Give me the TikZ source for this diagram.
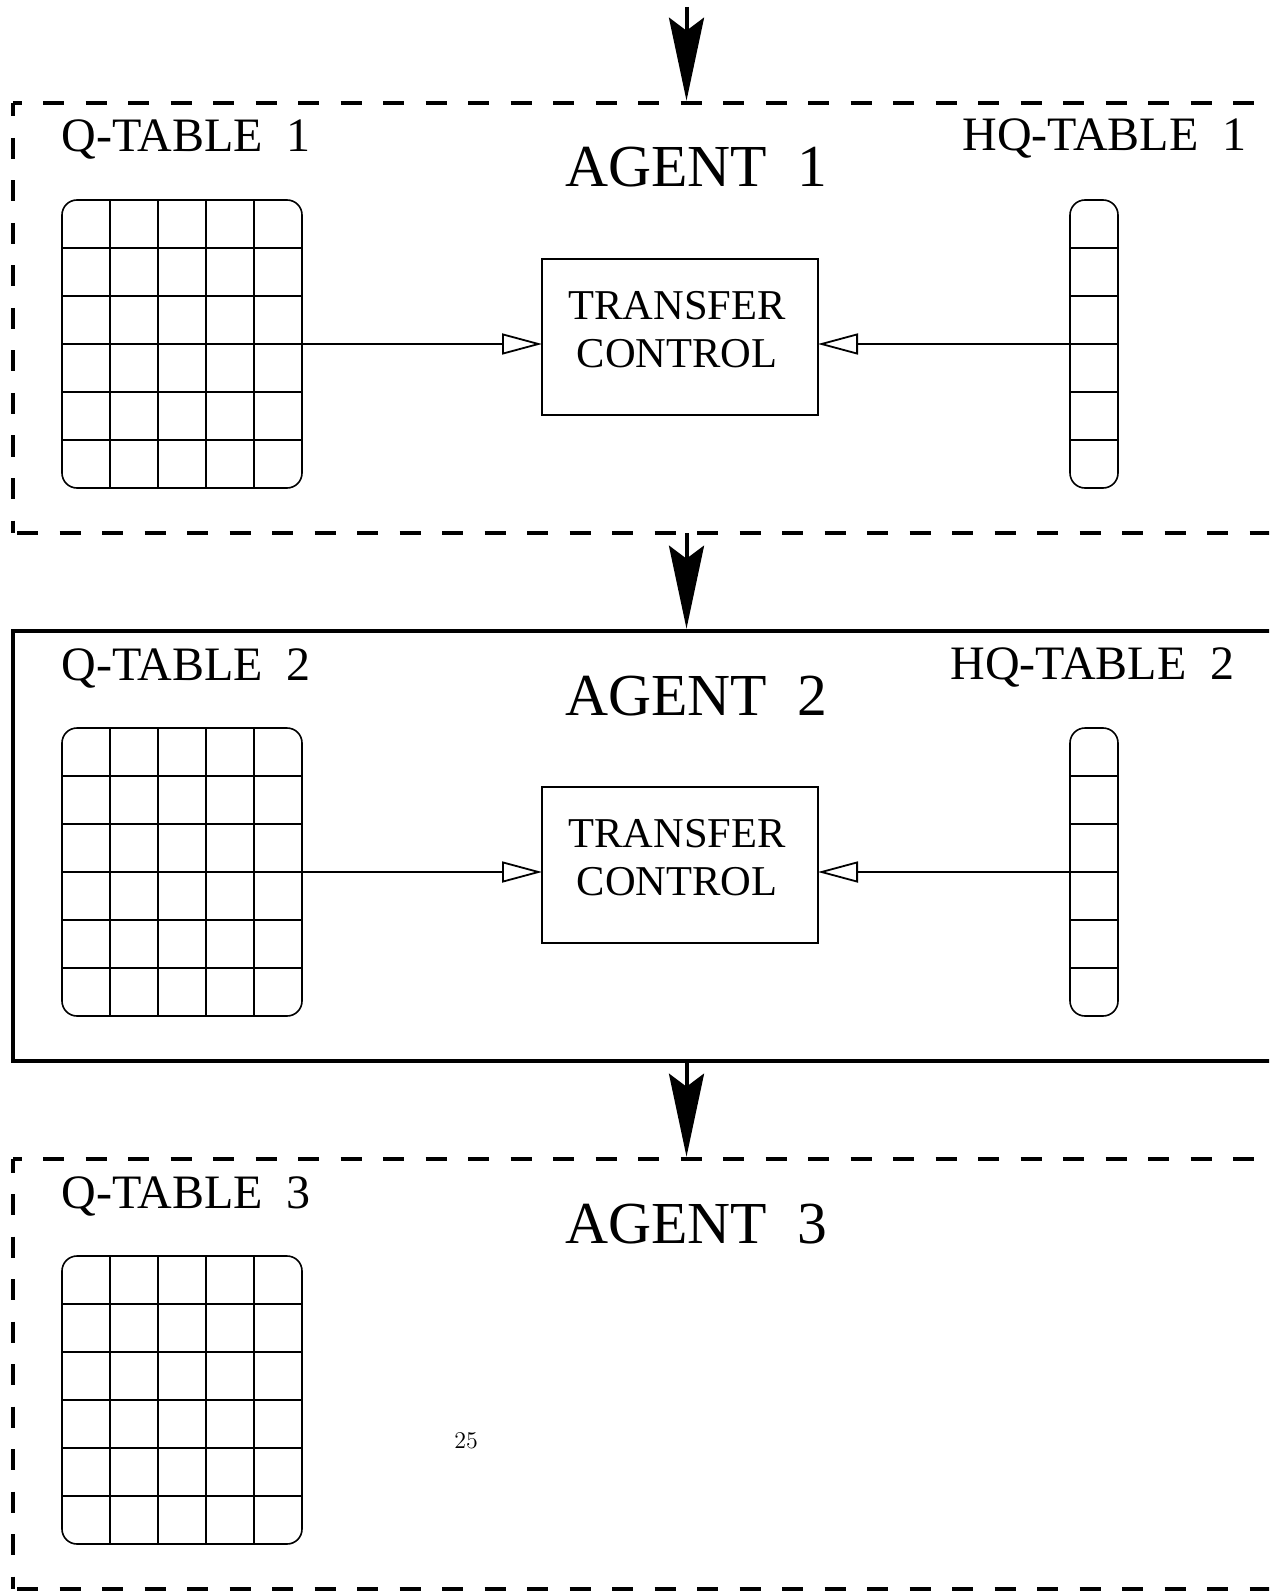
\documentclass[tikz,border=0pt]{standalone}
\usepackage{fontspec}
\setmainfont{Liberation Serif}
\usetikzlibrary{arrows.meta}

\begin{document}
\begin{tikzpicture}[x=0.5pt,y=-0.5pt,
  agentframe/.style={line width=2.3pt},
  dashedframe/.style={agentframe, dash pattern=on 10.5pt off 10.75pt},
  framebox/.style={inner sep=0pt, outer sep=0pt, minimum width=673.5pt, minimum height=215pt},
  flowarrow/.style={line width=2pt, shorten >=1.15pt,
    -{Stealth[length=41.5pt,width=17.5pt,inset=6.5pt]}},
  gridline/.style={line width=0.8pt},
  tablebox/.style={draw, line width=0.8pt, rounded corners=7.5pt, inner sep=0pt, outer sep=0pt,
    minimum height=144pt},
  ctrlbox/.style={draw, line width=0.8pt, inner sep=0pt, outer sep=0pt,
    minimum width=138pt, minimum height=78pt},
  feedarrow/.style={line width=0.9pt, -{Triangle[open,length=20pt,width=10.5pt]}},
  tablelabel/.style={font=\fontsize{24}{28}\selectfont, anchor=base west, inner sep=0pt},
  agentlabel/.style={font=\fontsize{29.8}{35}\selectfont, anchor=base west, inner sep=0pt},
  ctrltext/.style={font=\fontsize{21.25}{24}\selectfont, align=center, inner sep=0pt},
]
\useasboundingbox (0,0) rectangle (1269,1593);
\clip (0,0) rectangle (1269,1593);

% agent frames (they run on past the right-hand edge)
\node[framebox] (a1) at (686.5,318) {};
\node[framebox] (a2) at (686.5,846) {};
\node[framebox] (a3) at (686.5,1374) {};

\draw[dashedframe, dash phase=6.25pt] (a1.north west) -- (a1.north east);
\draw[dashedframe, dash phase=3.75pt] (a1.north west) -- (a1.south west);
\draw[dashedframe, dash phase=19.25pt] (a1.south west) -- (a1.south east);

\draw[agentframe] (a2.north east) -- (a2.north west) -- (a2.south west) -- (a2.south east);

\draw[dashedframe, dash phase=6.25pt] (a3.north west) -- (a3.north east);
\draw[dashedframe, dash phase=3.75pt] (a3.north west) -- (a3.south west);
\draw[dashedframe, dash phase=19.25pt] (a3.south west) -- (a3.south east);

% flow between agents
\coordinate (entry) at (686.5,7);
\draw[flowarrow] (entry) -- (a1.north);
\draw[flowarrow] (a1.south) -- (a2.north);
\draw[flowarrow] (a2.south) -- (a3.north);

% Q-tables of all three agents
\foreach \k/\dy in {1/0,2/528,3/1056}{
  \begin{scope}[shift={(0,\dy)}]
    \foreach \i in {1,...,4}
      \draw[gridline] (62+48*\i,200) -- (62+48*\i,488);
    \foreach \j in {1,...,5}
      \draw[gridline] (62,200+48*\j) -- (302,200+48*\j);
    \node[tablebox, minimum width=120pt] (q\k) at (182,344) {};
    \node[tablelabel] (ql\k) at (61,152) {Q-TABLE\ \ \k};
    \node[agentlabel] (al\k) at (565,187) {AGENT\ \ \k};
  \end{scope}
}

% HQ-tables and transfer control of agents 1 and 2
\foreach \k/\dy/\hx in {1/0/962,2/528/950}{
  \begin{scope}[shift={(0,\dy)}]
    \foreach \j in {1,...,5}
      \draw[gridline] (1070,200+48*\j) -- (1118,200+48*\j);
    \node[tablebox, minimum width=24pt] (hq\k) at (1094,344) {};
    \node[tablelabel] (hql\k) at (\hx,151) {HQ-TABLE\ \ \k};
    \node[ctrlbox] (tc\k) at (680,337) {};
    \node[ctrltext] (tct\k) at (677,330) {TRANSFER\\CONTROL};
    \draw[feedarrow] (q\k.east) -- (q\k.east -| tc\k.west);
    \draw[feedarrow] (hq\k.west) -- (hq\k.west -| tc\k.east);
  \end{scope}
}

% page number
\node[font=\fontfamily{lmr}\fontsize{12}{14}\selectfont, anchor=base west, inner sep=0pt]
  (pagenum) at (454,1448) {25};
\end{tikzpicture}
\end{document}
